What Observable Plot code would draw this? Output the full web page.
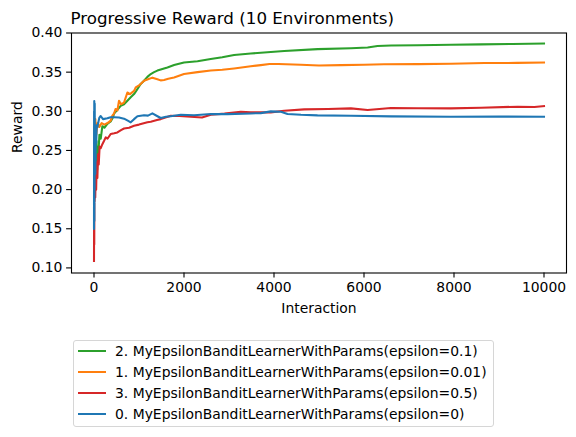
<!DOCTYPE html>
<html>
<head>
<meta charset="utf-8">
<script src="https://cdn.jsdelivr.net/npm/d3@7"></script>
<script src="https://cdn.jsdelivr.net/npm/@observablehq/plot@0.6"></script>
<style>
  body { margin: 0; background: #fff; font-family: "DejaVu Sans", sans-serif; }
  #wrap { position: relative; width: 576px; height: 437px; overflow: hidden; }
  #legend { position: absolute; left: 72.5px; top: 339.5px; width: 421.5px; height: 87.5px;
            border: 1px solid #d6d6d6; border-radius: 3px; box-sizing: border-box; background: #fff; }
  .row { position: absolute; left: 0; height: 20px; line-height: 20px; font-size: 13.9px; color: #000; white-space: nowrap; }
  .sw { position: absolute; left: 4px; top: 9px; width: 28.5px; height: 2.1px; }
  .lbl { position: absolute; left: 41.5px; top: 0; }
</style>
</head>
<body>
<div id="wrap">
  <div id="chart"></div>
  <div id="legend"></div>
</div>
<script>
const title = "Progressive Reward (10 Environments)";
const xLabel = "Interaction";
const yLabel = "Reward";
const xTicks = [0, 2000, 4000, 6000, 8000, 10000];
const yTicks = [0.10, 0.15, 0.20, 0.25, 0.30, 0.35, 0.40];

const seriesNames = [
  "2. MyEpsilonBanditLearnerWithParams(epsilon=0.1)",
  "1. MyEpsilonBanditLearnerWithParams(epsilon=0.01)",
  "3. MyEpsilonBanditLearnerWithParams(epsilon=0.5)",
  "0. MyEpsilonBanditLearnerWithParams(epsilon=0)"
];
const seriesColors = ["#2ca02c", "#ff7f0e", "#d62728", "#1f77b4"];

// [interaction, reward]
const greenEps01 = [
  [40,0.240],[55,0.262],[70,0.225],[85,0.255],[100,0.248],[120,0.270],[150,0.265],[186,0.281],
  [230,0.279],[297,0.284],[371,0.287],[420,0.292],[445,0.297],[520,0.302],[593,0.307],[667,0.309],
  [742,0.3135],[816,0.318],[890,0.322],[927,0.325],[1038,0.335],[1112,0.339],[1187,0.344],[1261,0.3476],
  [1335,0.350],[1409,0.352],[1520,0.354],[1631,0.356],[1780,0.359],[2000,0.3624],[2300,0.364],[2594,0.3667],
  [2850,0.369],[3113,0.372],[3484,0.3739],[3707,0.3747],[4227,0.377],[4968,0.3794],[5710,0.3805],[6080,0.3815],
  [6300,0.3835],[6600,0.384],[7200,0.3843],[7932,0.385],[8600,0.3855],[9300,0.386],[10000,0.3866]
];
const orangeEps001 = [
  [5,0.280],[15,0.262],[30,0.290],[50,0.270],[80,0.285],[120,0.280],[170,0.285],[230,0.283],
  [300,0.285],[371,0.288],[408,0.2944],[445,0.297],[480,0.303],[520,0.301],[556,0.3135],[600,0.309],
  [667,0.311],[742,0.324],[800,0.322],[890,0.326],[927,0.3305],[1000,0.333],[1112,0.339],[1200,0.341],
  [1298,0.343],[1409,0.341],[1480,0.3395],[1557,0.340],[1650,0.3415],[1779,0.3432],[2000,0.3476],[2300,0.350],
  [2594,0.352],[2850,0.353],[3113,0.3547],[3484,0.3575],[3707,0.359],[3900,0.3605],[4100,0.3605],[4596,0.3594],
  [5000,0.3585],[5486,0.359],[6000,0.3595],[6443,0.360],[7200,0.3603],[7932,0.3607],[8672,0.3616],[9400,0.3618],
  [10000,0.3624]
];
const redEps05 = [
  [0,0.109],[3,0.200],[6,0.130],[10,0.240],[14,0.185],[20,0.235],[28,0.190],[38,0.225],[48,0.200],
  [60,0.235],[75,0.215],[90,0.245],[105,0.232],[125,0.255],[150,0.253],[186,0.258],[222,0.262],[260,0.2667],
  [300,0.265],[371,0.271],[450,0.272],[520,0.273],[600,0.276],[667,0.278],[780,0.279],[890,0.2816],
  [1000,0.283],[1187,0.286],[1261,0.2867],[1400,0.289],[1483,0.290],[1706,0.2944],[1900,0.294],[2150,0.293],
  [2400,0.292],[2595,0.2957],[2900,0.297],[3262,0.2995],[3484,0.2986],[3929,0.2986],[4227,0.3008],[4672,0.3025],
  [5200,0.303],[5710,0.3037],[6080,0.3016],[6600,0.3042],[7200,0.3038],[7932,0.3037],[8600,0.3045],[9416,0.3059],
  [9787,0.3055],[10000,0.3067]
];
const blueEps0 = [
  [0,0.150],[2,0.300],[4,0.180],[6,0.313],[8,0.160],[10,0.290],[13,0.200],[16,0.310],[20,0.240],
  [25,0.280],[30,0.220],[40,0.275],[50,0.260],[60,0.282],[75,0.2795],[100,0.287],[120,0.292],[149,0.294],
  [200,0.290],[297,0.291],[370,0.2925],[445,0.2925],[556,0.292],[667,0.2906],[750,0.288],[816,0.2859],
  [890,0.290],[965,0.2938],[1112,0.295],[1200,0.2945],[1298,0.2973],[1400,0.294],[1483,0.2914],[1600,0.293],
  [1706,0.2938],[1928,0.2957],[2224,0.295],[2595,0.2965],[2966,0.2964],[3484,0.2973],[3707,0.2977],[3929,0.2999],
  [4153,0.2995],[4301,0.2966],[4600,0.2955],[4968,0.2948],[5710,0.2944],[6600,0.2935],[7932,0.2931],[9000,0.2932],
  [10000,0.2931]
];
const seriesData = [greenEps01, orangeEps001, redEps05, blueEps0];

const fs = 13.9;
const lineMarks = seriesData.map((d, i) =>
  Plot.line(d, {x: d => d[0], y: d => d[1], stroke: seriesColors[i], strokeWidth: 2.08,
                strokeLinejoin: "round", strokeLinecap: "square"})
);

const chart = Plot.plot({
  width: 576,
  height: 437,
  marginTop: 32.5,
  marginBottom: 164.5,
  marginLeft: 71,
  marginRight: 10,
  style: {fontFamily: "DejaVu Sans", fontSize: fs + "px", color: "#000", background: "#fff", overflow: "visible"},
  x: {domain: [-500, 10500]},
  y: {domain: [0.0935, 0.40]},
  marks: [
    ...lineMarks,
    Plot.frame({stroke: "#000", strokeWidth: 1.1}),
    Plot.axisX({ticks: xTicks, tickFormat: d3.format("d"), tickSize: 4.9, tickPadding: 4.2,
                label: null, fontSize: fs, strokeWidth: 1.1}),
    Plot.axisY({ticks: yTicks, tickFormat: d3.format(".2f"), tickSize: 4.9, tickPadding: 4.2,
                label: null, fontSize: fs, strokeWidth: 1.1}),
    Plot.text([title], {frameAnchor: "top-left", textAnchor: "start", lineAnchor: "middle",
                        dy: -14, dx: -1, fontSize: 16.7, fill: "#000"}),
    Plot.text([xLabel], {frameAnchor: "bottom", lineAnchor: "middle", dy: 36, fontSize: fs, fill: "#000"}),
    Plot.text([yLabel], {frameAnchor: "left", lineAnchor: "middle", rotate: -90, dx: -54, fontSize: fs, fill: "#000"})
  ]
});
document.getElementById("chart").appendChild(chart);

const legend = document.getElementById("legend");
const rowCenters = [350.8, 372.0, 393.2, 414.4];
seriesNames.forEach((name, i) => {
  const row = document.createElement("div");
  row.className = "row";
  row.style.top = (rowCenters[i] - 339.5 - 1 - 10) + "px";
  const sw = document.createElement("div");
  sw.className = "sw";
  sw.style.background = seriesColors[i];
  const lbl = document.createElement("div");
  lbl.className = "lbl";
  lbl.textContent = name;
  row.appendChild(sw);
  row.appendChild(lbl);
  legend.appendChild(row);
});
</script>
</body>
</html>
